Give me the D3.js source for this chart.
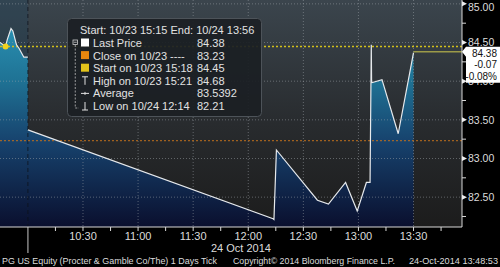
<!DOCTYPE html>
<html>
<head>
<meta charset="utf-8">
<script src="https://cdn.jsdelivr.net/npm/d3@7"></script>
<style>
  body { margin: 0; background: #000; }
  svg { display: block; font-family: "Liberation Sans", Arial, sans-serif; }
</style>
</head>
<body>
<svg id="chart"></svg>
<script>
// tail of the previous session (10/23)
const prevTimes = ["2014-10-23 15:15:00", "2014-10-23 15:18:00", "2014-10-23 15:19:00", "2014-10-23 15:21:00",
  "2014-10-23 15:22:00", "2014-10-23 15:24:00", "2014-10-23 15:25:30", "2014-10-23 15:28:00", "2014-10-23 15:30:12"];
const prevPrices = [84.50, 84.45, 84.54, 84.68, 84.65, 84.47, 84.42, 84.31, 84.31];

// ticks of 10/24
const dayTimes = ["2014-10-24 10:00:00", "2014-10-24 12:13:30", "2014-10-24 12:14:00", "2014-10-24 12:15:20",
  "2014-10-24 12:37:40", "2014-10-24 12:43:40", "2014-10-24 12:53:00", "2014-10-24 12:59:20",
  "2014-10-24 13:04:20", "2014-10-24 13:06:20", "2014-10-24 13:07:00", "2014-10-24 13:07:10",
  "2014-10-24 13:12:50", "2014-10-24 13:21:40", "2014-10-24 13:30:00"];
const dayPrices = [83.37, 82.22, 82.21, 83.11, 82.46, 82.41, 82.69, 82.32, 82.69, 82.69, 84.47, 83.98,
  84.02, 83.32, 84.37];

const lastPrice = 84.38;
const closePrice = 83.23;
const startPrice = 84.45;
const startTime = "2014-10-23 15:18:00";

const yMajor = [85, 84.5, 84, 83.5, 83, 82.5];
const yMinor = [84.75, 84.25, 83.75, 83.25, 82.75, 82.25];
const xLabels = ["10:30", "11:00", "11:30", "12:00", "12:30", "13:00", "13:30"];
const tagLines = ["84.38", "-0.07", "-0.08%"];

const legendLabels = ["Last Price", "Close on 10/23 ----", "Start on 10/23 15:18", "High on 10/23 15:21", "Average", "Low on 10/24 12:14"];
const legendValues = ["84.38", "83.23", "84.45", "84.68", "83.5392", "82.21"];
const legendIcons = ["sq", "sq", "sq", "high", "avg", "low"];
const legendColors = ["#ffffff", "#e8870e", "#e3c41b", null, null, null];

const W = 500, H = 267;
const plotR = 462, plotB = 227;
const parse = d3.timeParse("%Y-%m-%d %H:%M:%S");

const svg = d3.select("#chart").attr("width", W).attr("height", H);

const x = d3.scaleTime()
  .domain([parse("2014-10-23 15:15:00"), parse("2014-10-23 15:30:12"), parse("2014-10-24 10:00:00"), parse("2014-10-24 13:56:24")])
  .range([0, 27.9, 27.9, plotR]);
const y = d3.scaleLinear().domain([82.114, 85.05]).range([plotB, 0]);

const defs = svg.append("defs");
const bg = defs.append("linearGradient").attr("id", "bg").attr("x1", 0).attr("y1", 0).attr("x2", 0).attr("y2", 1);
bg.append("stop").attr("offset", 0).attr("stop-color", "#3b454d");
bg.append("stop").attr("offset", 0.55).attr("stop-color", "#282b2e");
bg.append("stop").attr("offset", 1).attr("stop-color", "#1c1c1c");

const fillG = defs.append("linearGradient").attr("id", "fillG").attr("gradientUnits", "userSpaceOnUse")
  .attr("x1", 0).attr("y1", 0).attr("x2", 0).attr("y2", plotB);
fillG.append("stop").attr("offset", 0).attr("stop-color", "#2f9ec0");
fillG.append("stop").attr("offset", 0.35).attr("stop-color", "#1f7395");
fillG.append("stop").attr("offset", 0.62).attr("stop-color", "#17436e");
fillG.append("stop").attr("offset", 1).attr("stop-color", "#0a0f2e");

// plot background
svg.append("rect").attr("x", 0).attr("y", 0).attr("width", plotR).attr("height", plotB).attr("fill", "url(#bg)");
const sepX = x(parse("2014-10-24 10:00:00"));
svg.append("rect").attr("x", 0).attr("y", 0).attr("width", sepX).attr("height", plotB)
  .attr("fill", "#1d4560").attr("opacity", 0.3);

const prev = prevTimes.map((t, i) => ({ t: parse(t), v: prevPrices[i] }));
const day = dayTimes.map((t, i) => ({ t: parse(t), v: dayPrices[i] }));

const area = d3.area().x(d => x(d.t)).y0(plotB).y1(d => y(d.v));
const line = d3.line().x(d => x(d.t)).y(d => y(d.v));

[prev, day].forEach(s => {
  svg.append("path").attr("d", area(s)).attr("fill", "url(#fillG)");
});

// grid
const gridC = "#a0a6ac";
svg.append("g").selectAll("line").data(yMajor).join("line")
  .attr("x1", 0).attr("x2", plotR).attr("y1", d => y(d)).attr("y2", d => y(d))
  .attr("stroke", gridC).attr("stroke-opacity", 0.5).attr("stroke-dasharray", "1,2");
const hm = d3.timeParse("%Y-%m-%d %H:%M");
const xLabelTimes = xLabels.map(l => hm("2014-10-24 " + l));
svg.append("g").selectAll("line").data(xLabelTimes).join("line")
  .attr("x1", d => x(d)).attr("x2", d => x(d)).attr("y1", 0).attr("y2", plotB)
  .attr("stroke", gridC).attr("stroke-opacity", 0.5).attr("stroke-dasharray", "1,2");

// session separator
svg.append("line").attr("x1", sepX).attr("x2", sepX).attr("y1", 0).attr("y2", plotB)
  .attr("stroke", "#0c1018").attr("stroke-opacity", 0.7).attr("stroke-dasharray", "4,3");
svg.append("line").attr("x1", sepX).attr("x2", sepX).attr("y1", plotB).attr("y2", 253)
  .attr("stroke", "#858585").attr("stroke-width", 1.5);

// close / start reference lines
svg.append("line").attr("x1", 0).attr("x2", plotR).attr("y1", y(closePrice)).attr("y2", y(closePrice))
  .attr("stroke", "#c0701c").attr("stroke-dasharray", "2,2");
svg.append("line").attr("x1", 0).attr("x2", plotR).attr("y1", y(startPrice)).attr("y2", y(startPrice))
  .attr("stroke", "#d2c01c").attr("stroke-width", 1.5).attr("stroke-dasharray", "2,2");

// price line
[prev, day].forEach(s => {
  svg.append("path").attr("d", line(s)).attr("fill", "none").attr("stroke", "#e6e9ec").attr("stroke-width", 1.2);
});
const lastT = day[day.length - 1].t;
svg.append("line").attr("x1", x(lastT)).attr("x2", plotR).attr("y1", y(lastPrice)).attr("y2", y(lastPrice))
  .attr("stroke", "#9c9a48").attr("stroke-width", 1.6);

svg.append("circle").attr("cx", x(parse(startTime))).attr("cy", y(startPrice)).attr("r", 3).attr("fill", "#f2d21e");

// axes
svg.append("line").attr("x1", 0).attr("x2", plotR).attr("y1", plotB).attr("y2", plotB).attr("stroke", "#d8d8d8");
svg.append("line").attr("x1", plotR).attr("x2", plotR).attr("y1", 0).attr("y2", plotB).attr("stroke", "#d8d8d8");

const quarter = d3.timeMinute.every(15).range(hm("2014-10-24 10:15"), hm("2014-10-24 13:50"));
svg.append("g").selectAll("line").data(quarter).join("line")
  .attr("x1", d => x(d)).attr("x2", d => x(d)).attr("y1", plotB).attr("y2", plotB + 4)
  .attr("stroke", "#d8d8d8");

svg.append("g").selectAll("text").data(xLabels).join("text")
  .attr("x", (d, i) => x(xLabelTimes[i])).attr("y", 239.5)
  .attr("text-anchor", "middle").attr("font-size", 11).attr("fill", "#dcdcdc").text(d => d);
svg.append("text").attr("x", x(hm("2014-10-24 11:56"))).attr("y", 251.5)
  .attr("text-anchor", "middle").attr("font-size", 11).attr("fill", "#dcdcdc").text("24 Oct 2014");

svg.append("g").selectAll("line").data(yMinor).join("line")
  .attr("x1", plotR).attr("x2", plotR + 4).attr("y1", d => y(d)).attr("y2", d => y(d)).attr("stroke", "#d8d8d8");
svg.append("g").selectAll("path").data(yMajor).join("path")
  .attr("d", d => `M${plotR},${y(d) - 2.5}L${plotR + 5},${y(d)}L${plotR},${y(d) + 2.5}Z`).attr("fill", "#ececec");
svg.append("g").selectAll("text").data(yMajor).join("text")
  .attr("x", 468).attr("y", d => Math.max(y(d) + 3.8, 11))
  .attr("font-size", 10.5).attr("fill", "#dcdcdc").text(d => d.toFixed(2));

// last price tag
const ly = y(lastPrice);
svg.append("path")
  .attr("d", `M${plotR},${ly}L${plotR + 4},${ly - 5}L${W},${ly - 5}L${W},${ly + 31}L${plotR + 4},${ly + 31}L${plotR + 4},${ly + 5}Z`)
  .attr("fill", "#ffffff");
svg.append("g").selectAll("text").data(tagLines).join("text")
  .attr("x", 497).attr("y", (d, i) => ly + 4.8 + i * 11.7).attr("text-anchor", "end")
  .attr("font-size", 10).attr("fill", "#111").text(d => d);

// legend
const lg = svg.append("g");
lg.append("rect").attr("x", 67.5).attr("y", 18.5).attr("width", 194).attr("height", 98).attr("rx", 4)
  .attr("fill", "#1b1f23").attr("fill-opacity", 0.93).attr("stroke", "#4d5359");
lg.append("text").attr("x", 80).attr("y", 34).attr("font-size", 11).attr("fill", "#e2e2e2")
  .text("Start: 10/23 15:15 End: 10/24 13:56");
const rowY = i => 47 + i * 12.6;
lg.append("rect").attr("x", 73).attr("y", 40).attr("width", 4.5).attr("height", 4.5)
  .attr("fill", "none").attr("stroke", "#cfcfcf").attr("stroke-width", 0.8);
lg.append("line").attr("x1", 73.8).attr("x2", 76.7).attr("y1", 42.25).attr("y2", 42.25).attr("stroke", "#cfcfcf").attr("stroke-width", 0.8);
lg.append("path").attr("d", `M75.25,45V${rowY(5) - 2}H79`).attr("fill", "none")
  .attr("stroke", "#bdbdbd").attr("stroke-width", 0.8).attr("stroke-dasharray", "2,1.5");
legendLabels.forEach((lab, i) => {
  const by = rowY(i);
  const kind = legendIcons[i];
  if (kind === "sq") {
    lg.append("rect").attr("x", 81).attr("y", by - 8.5).attr("width", 8).attr("height", 8).attr("fill", legendColors[i]);
  } else if (kind === "high") {
    lg.append("path").attr("d", `M82,${by - 8}H88M85,${by - 8}V${by}`).attr("stroke", "#e0e0e0").attr("fill", "none");
  } else if (kind === "low") {
    lg.append("path").attr("d", `M82,${by}H88M85,${by - 8}V${by}`).attr("stroke", "#e0e0e0").attr("fill", "none");
  } else {
    lg.append("path").attr("d", `M81,${by - 4}H89M85,${by - 5.5}V${by - 2.5}`).attr("stroke", "#e0e0e0").attr("fill", "none");
  }
  lg.append("text").attr("x", 93).attr("y", by).attr("font-size", 11).attr("fill", "#e2e2e2").text(lab);
  lg.append("text").attr("x", 197).attr("y", by).attr("font-size", 11).attr("fill", "#e2e2e2").text(legendValues[i]);
});

// footer
const foot = svg.append("g").attr("font-size", 9.4).attr("fill", "#dcdcdc");
foot.append("text").attr("x", 2).attr("y", 263.5).attr("textLength", 215).attr("lengthAdjust", "spacingAndGlyphs")
  .text("PG US Equity (Procter & Gamble Co/The) 1 Days  Tick");
foot.append("text").attr("x", 233).attr("y", 263.5).attr("textLength", 162).attr("lengthAdjust", "spacingAndGlyphs")
  .text("Copyright\u00A9 2014 Bloomberg Finance L.P.");
foot.append("text").attr("x", 409).attr("y", 263.5).attr("textLength", 89).attr("lengthAdjust", "spacingAndGlyphs")
  .text("24-Oct-2014 13:48:53");
</script>
</body>
</html>
